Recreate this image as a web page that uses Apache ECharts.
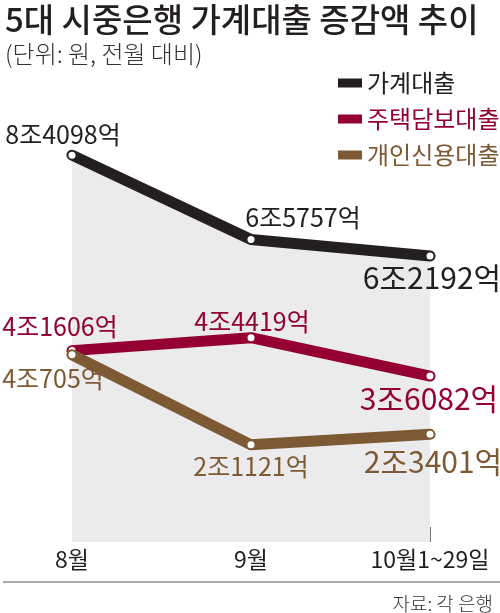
<!DOCTYPE html>
<html>
<head>
<meta charset="utf-8">
<script src="https://cdn.jsdelivr.net/npm/echarts@6/dist/echarts.min.js"></script>
<style>
html,body{margin:0;padding:0;background:#fff;}
#chart{width:500px;height:613px;}
</style>
</head>
<body>
<div id="chart"></div>
<script>
// Data (unit: 억원)
const categories = ['8월', '9월', '10월1~29일'];
const seriesNames = ['가계대출', '주택담보대출', '개인신용대출'];
const householdLoans = [84098, 65757, 62192];
const mortgageLoans = [41606, 44419, 36082];
const creditLoans = [40705, 21121, 23401];

const FONT = '"Noto Sans CJK KR", "Noto Sans", sans-serif';
const colors = ['#231f20', '#930031', '#7d5a33'];

function fmt(v) {
  return Math.floor(v / 10000) + '조' + (v % 10000) + '억';
}

// label offsets (style only) per series/point
const labelOffsets = [
  [[-9, -21], [52, -22], [2, 22]],
  [[-12, -24], [1, -16], [-1, 23]],
  [[-19, 24], [0, 22], [3, 27]]
];

function buildData(values, si) {
  return values.map((v, i) => ({
    value: v,
    label: {
      show: true,
      position: 'inside',
      offset: labelOffsets[si][i],
      formatter: fmt(v),
      color: colors[si],
      fontFamily: FONT,
      fontSize: i === values.length - 1 ? 30 : 25,
      fontWeight: 400
    }
  }));
}

const allValues = [householdLoans, mortgageLoans, creditLoans];

const chart = echarts.init(document.getElementById('chart'), null, {renderer: 'canvas'});

const series = allValues.map((vals, si) => ({
  name: seriesNames[si],
  type: 'line',
  data: buildData(vals, si),
  symbol: 'circle',
  symbolSize: 7,
  showAllSymbol: true,
  z: 2 + si,
  lineStyle: {color: colors[si], width: 11, cap: 'round', join: 'round'},
  itemStyle: {color: '#ffffff', borderWidth: 0},
  areaStyle: si === 0 ? {color: '#ebebed', opacity: 1, origin: 'start'} : undefined,
  emphasis: {disabled: true},
  animation: false
}));

chart.setOption({
  animation: false,
  backgroundColor: '#ffffff',
  title: [
    {
      text: '5대 시중은행 가계대출 증감액 추이',
      left: 0, top: -2,
      textStyle: {fontFamily: FONT, fontSize: 33, fontWeight: 500, color: '#231f20'}
    },
    {
      text: '(단위: 원, 전월 대비)',
      left: 0, top: 37,
      textStyle: {fontFamily: FONT, fontSize: 24, fontWeight: 300, color: '#333333'}
    },
    {
      text: '자료: 각 은행',
      right: 2, top: 589,
      textStyle: {fontFamily: FONT, fontSize: 19, fontWeight: 300, color: '#333333'}
    }
  ],
  legend: {
    orient: 'vertical',
    left: 333, top: 66,
    itemWidth: 24, itemHeight: 9,
    itemGap: 12,
    icon: 'rect',
    selectedMode: false,
    data: seriesNames.map((n, i) => ({
      name: n,
      itemStyle: {color: colors[i]},
      textStyle: {color: colors[i]}
    })),
    textStyle: {fontFamily: FONT, fontSize: 24, padding: [0, 0, 0, 0]}
  },
  grid: {left: 72, right: 70, top: 82, bottom: 71, containLabel: false},
  xAxis: {
    type: 'category',
    data: categories,
    boundaryGap: false,
    axisLine: {show: false},
    axisTick: {show: true, inside: true, length: 15, lineStyle: {color: '#777777', width: 1}},
    axisLabel: {fontFamily: FONT, fontSize: 23, color: '#231f20', margin: 6, interval: 0},
    splitLine: {show: false}
  },
  yAxis: {
    type: 'value',
    min: 0, max: 100000,
    show: false
  },
  graphic: [
    {
      type: 'line',
      shape: {x1: 3, y1: 582, x2: 500, y2: 582},
      style: {stroke: '#555555', lineWidth: 1}
    }
  ],
  series: series
});
</script>
</body>
</html>
